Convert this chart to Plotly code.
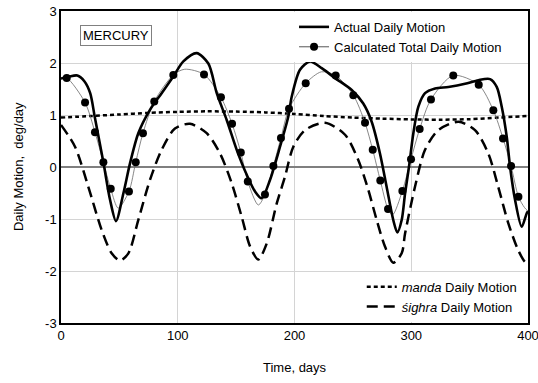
import plotly.graph_objects as go

# ---- data ----
actual_x = [0, 7, 14, 20, 25, 29, 36.3, 42, 47.1, 53.4, 59.1, 66.2, 76.2, 86.2, 96.2, 104.8, 116.2, 126.2,
            133.4, 142, 150.5, 159.1, 166.2, 171.9, 179, 187.6, 194.7, 197.6, 204.7, 213.3, 223.3, 234.7,
            249, 258.9, 266.1, 273.2, 278.9, 284.6, 288.1, 291.8, 294.7, 298.1, 301.8, 306.1, 311.8,
            320.4, 331.8, 346.1, 357.5, 367.5, 373.2, 377.5, 381.8, 384.6, 388.9, 394.6, 398.9, 400]
actual_y = [1.70, 1.74, 1.76, 1.65, 1.42, 0.95, 0.09, -0.63, -1.04, -0.51, 0.07, 0.65, 1.10, 1.42, 1.74,
            2.03, 2.19, 1.99, 1.42, 0.90, 0.33, -0.15, -0.47, -0.60, -0.25, 0.39, 0.97, 1.35, 1.87, 2.03,
            1.90, 1.71, 1.48, 1.22, 0.87, 0.26, -0.38, -1.02, -1.26, -1.02, -0.51, 0.01, 0.65, 1.16, 1.42,
            1.51, 1.54, 1.60, 1.67, 1.69, 1.54, 1.16, 0.58, 0.01, -0.63, -1.15, -0.89, -0.85]

calc_x = [0, 4.9, 20.6, 29.1, 36.3, 42.6, 49, 58.2, 64, 70.2, 79.9, 96.2, 106, 122.5, 137, 146.5, 154,
          160, 169, 174.7, 181.9, 188.4, 195.3, 209.6, 223, 235.3, 250.4, 260.4, 267, 273.5, 280.1, 284,
          292.4, 299.8, 307.2, 316.9, 336, 357.8, 370.3, 378.6, 385.5, 391.8, 397, 400]
calc_y = [1.69, 1.71, 1.24, 0.67, 0.09, -0.42, -0.79, -0.47, 0.09, 0.65, 1.26, 1.77, 1.88, 1.78, 1.34,
          0.83, 0.28, -0.28, -0.73, -0.53, 0.02, 0.56, 1.12, 1.61, 1.83, 1.76, 1.38, 0.85, 0.33, -0.26,
          -0.81, -0.92, -0.46, 0.15, 0.73, 1.30, 1.76, 1.58, 1.09, 0.55, 0.02, -0.57, -0.78, -0.85]

marker_x = [4.9, 20.6, 29.1, 36.3, 42.6, 58.2, 64, 70.2, 79.9, 96.2, 122.5, 137, 146.5, 154, 160, 174.7,
            181.9, 188.4, 195.3, 209.6, 235.3, 250.4, 260.4, 267, 273.5, 280.1, 292.4, 299.8, 307.2,
            316.9, 336, 357.8, 370.3, 378.6, 385.5, 391.8]
marker_y = [1.71, 1.24, 0.67, 0.09, -0.42, -0.47, 0.09, 0.65, 1.26, 1.77, 1.78, 1.34, 0.83, 0.28, -0.28,
            -0.53, 0.02, 0.56, 1.12, 1.61, 1.76, 1.38, 0.85, 0.33, -0.26, -0.81, -0.46, 0.15, 0.73, 1.30,
            1.76, 1.58, 1.09, 0.55, 0.02, -0.57]

manda_x = [0, 25, 50, 75, 100, 125, 150, 175, 200, 225, 250, 275, 300, 325, 350, 375, 400]
manda_y = [0.95, 0.98, 1.01, 1.04, 1.06, 1.07, 1.065, 1.05, 1.02, 0.98, 0.95, 0.93, 0.915, 0.91, 0.92,
           0.95, 0.98]

sighra_x = [0, 12, 23.4, 34.8, 43.4, 50.5, 57.7, 66.2, 76.2, 86.2, 97.6, 110.5, 124.8, 136.2, 146.2,
            154.8, 162, 169, 176.2, 184.8, 191.8, 199, 209, 226.1, 243.3, 254.7, 263.2, 270.4, 277.5,
            284.6, 291.8, 294.7, 303.2, 311.8, 323.2, 340.4, 354.6, 366, 374.5, 383.1, 391.6, 397.3, 400]
sighra_y = [0.81, 0.39, -0.38, -1.21, -1.66, -1.80, -1.66, -1.02, -0.25, 0.33, 0.74, 0.83, 0.65, 0.26,
            -0.31, -0.96, -1.53, -1.78, -1.47, -0.70, -0.19, 0.39, 0.71, 0.85, 0.62, 0.13, -0.44, -1.02,
            -1.53, -1.84, -1.66, -1.28, -0.38, 0.33, 0.71, 0.87, 0.71, 0.26, -0.38, -1.08, -1.60, -1.82,
            -1.85]

x_ticks = [0, 100, 200, 300, 400]
y_ticks = [-3, -2, -1, 0, 1, 2, 3]

FONT = "Liberation Sans, Arial, sans-serif"
FS = 13

fig = go.Figure()

fig.add_trace(go.Scatter(x=manda_x, y=manda_y, mode="lines", name="<i>manda</i> Daily Motion",
                         line=dict(color="black", width=2.5, dash="4px,3px", shape="spline", smoothing=0.8),
                         legend="legend2"))
fig.add_trace(go.Scatter(x=sighra_x, y=sighra_y, mode="lines", name="<i>śighra</i> Daily Motion",
                         line=dict(color="black", width=2.5, dash="11px,6px", shape="spline", smoothing=0.8),
                         legend="legend2"))
fig.add_trace(go.Scatter(x=calc_x, y=calc_y, mode="lines", showlegend=False,
                         line=dict(color="#6a6a6a", width=0.8, shape="spline", smoothing=0.8)))
fig.add_trace(go.Scatter(x=actual_x, y=actual_y, mode="lines", name="Actual Daily Motion",
                         line=dict(color="black", width=2.6, shape="spline", smoothing=0.8),
                         legend="legend"))
fig.add_trace(go.Scatter(x=marker_x, y=marker_y, mode="markers", showlegend=False,
                         marker=dict(color="black", size=8)))
fig.add_trace(go.Scatter(x=[None], y=[None], mode="lines+markers", name="Calculated Total Daily Motion",
                         line=dict(color="#555555", width=1), marker=dict(color="black", size=8),
                         legend="legend"))

fig.add_annotation(x=0.117, y=0.923, xref="paper", yref="paper", xanchor="center", yanchor="middle",
                   text="MERCURY", showarrow=False,
                   font=dict(family=FONT, size=FS, color="black"), bordercolor="#808080", borderwidth=1,
                   borderpad=2, bgcolor="white")
fig.add_annotation(x=0.5, y=-0.144, xref="paper", yref="paper", xanchor="center", yanchor="middle",
                   text="Time, days", showarrow=False, font=dict(family=FONT, size=FS, color="black"))
fig.add_annotation(x=-0.092, y=0.5, xref="paper", yref="paper", xanchor="center", yanchor="middle",
                   text="Daily Motion,  deg/day", textangle=-90, showarrow=False,
                   font=dict(family=FONT, size=FS, color="black"))

fig.update_layout(
    width=538, height=383,
    margin=dict(l=61, r=10, t=11, b=60, autoexpand=False),
    paper_bgcolor="white", plot_bgcolor="white",
    font=dict(family=FONT, size=FS, color="black"),
    legend=dict(x=0.499, y=0.997, xanchor="left", yanchor="top", bgcolor="white",
                font=dict(family=FONT, size=FS), tracegroupgap=0, borderwidth=0),
    legend2=dict(x=0.644, y=0.004, xanchor="left", yanchor="bottom", bgcolor="white",
                 font=dict(family=FONT, size=FS), tracegroupgap=0, borderwidth=0),
)
fig.update_xaxes(range=[0, 400], tickvals=x_ticks, ticktext=[str(v) for v in x_ticks],
                 showgrid=True, gridcolor="#d4d4d4", gridwidth=1, zeroline=False, automargin=False,
                 showline=True, linecolor="black", linewidth=1.5, mirror=True, ticks="",
                 ticklabeloverflow="allow", tickfont=dict(size=FS))
fig.update_yaxes(range=[-3, 3], tickvals=y_ticks, ticktext=[str(v) for v in y_ticks],
                 showgrid=True, gridcolor="#d4d4d4", gridwidth=1, automargin=False,
                 zeroline=True, zerolinecolor="#7f7f7f", zerolinewidth=1.5,
                 showline=True, linecolor="black", linewidth=1.5, mirror=True, ticks="",
                 ticklabeloverflow="allow", tickfont=dict(size=FS))

fig.write_html("out.html")
